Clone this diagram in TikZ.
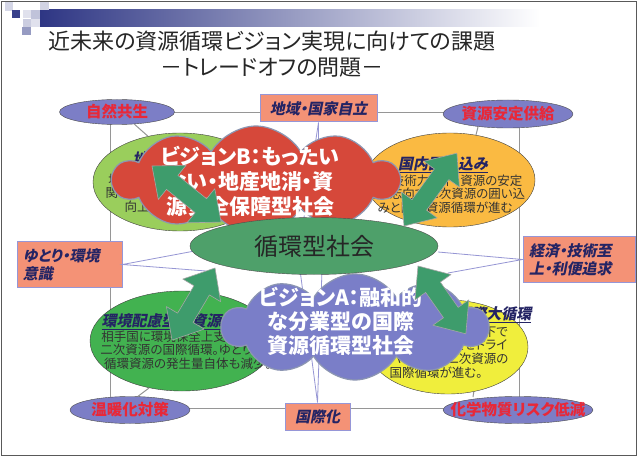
\documentclass[tikz,border=0pt]{standalone}
\usepackage{fontspec}
\setmainfont{Noto Sans CJK JP}[RawFeature=+palt]
\newfontfamily\jpsl{Noto Sans CJK JP}[FakeSlant=0.2, RawFeature=+palt]
\usepackage{tikz}
\usetikzlibrary{shapes.geometric,shapes.symbols}
\definecolor{hdrnavy}{RGB}{46,54,132}
\definecolor{framegray}{RGB}{150,150,150}
\definecolor{wedgeblue}{RGB}{150,150,212}
\definecolor{cornerfill}{RGB}{124,126,198}
\definecolor{cornerred}{RGB}{232,40,56}
\definecolor{boxfill}{RGB}{244,146,118}
\definecolor{boxedge}{RGB}{150,150,215}
\definecolor{navytext}{RGB}{36,36,100}
\definecolor{limegreen}{RGB}{154,206,92}
\definecolor{goldfill}{RGB}{250,186,66}
\definecolor{leafgreen}{RGB}{66,178,80}
\definecolor{lemonfill}{RGB}{240,238,60}
\definecolor{cloudred}{RGB}{214,72,58}
\definecolor{cloudblue}{RGB}{122,126,200}
\definecolor{cloudedge}{RGB}{140,150,178}
\definecolor{coregreen}{RGB}{78,160,106}
\definecolor{arrowgreen}{RGB}{62,156,108}
\tikzstyle{corner} = [ellipse, draw=black!70, fill=cornerfill, inner sep=0pt]
\tikzstyle{cornertext} = [font=\fontsize{15.5}{17}\selectfont\bfseries, text=cornerred]
\tikzstyle{axisbox} = [rectangle, draw=boxedge, line width=1pt, fill=boxfill, font=\jpsl\fontsize{15}{18}\selectfont\bfseries, text=navytext]
\tikzset{scene/.style={ellipse, draw=black!75, inner sep=0pt},
    vision/.style={cloud, cloud puffs=10, cloud puff arc=120, cloud ignores aspect, draw=cloudedge, line width=1.2pt, inner sep=0pt},
    visiontext/.style={font=\fontsize{21}{25}\selectfont\bfseries, text=white, align=center},
    twin/.style={fill=arrowgreen, draw=black!35, line width=0.6pt, line join=round},
    head/.style={font=\jpsl\fontsize{15}{17}\selectfont\bfseries, text=navytext},
    body/.style={font=\fontsize{12.5}{13.7}\selectfont, text=black!80, align=center},
    wedge/.style={draw=wedgeblue, line width=0.8pt}}
% block arrow with two heads: start, angle, length
\newcommand{\twinarrow}[3]{%
  \begin{scope}[shift={#1}, rotate=#2]
  \filldraw[twin] (0,0) -- (26,22) -- (26,9) -- ({#3-26},9) -- ({#3-26},22) -- (#3,0)
     -- ({#3-26},-22) -- ({#3-26},-9) -- (26,-9) -- (26,-22) -- cycle;
  \end{scope}}

\begin{document}
\begin{tikzpicture}[x=1pt, y=-1pt]
    \useasboundingbox (0,0) rectangle (640,457);
    \fill[white] (0,0) rectangle (640,457);
    \draw[black!65, line width=1pt] (1.5,1.5) rectangle (636.5,455.5);
    % header band and squares
    \shade[left color=hdrnavy, right color=white] (40,10) rectangle (540,27);
    \fill[hdrnavy!20] (5,2) rectangle (13,11);
    \fill[hdrnavy!95] (12,10) rectangle (20,18);
    \fill[hdrnavy!15] (23,10) rectangle (31,18);
    \fill[hdrnavy!30] (31,10) rectangle (40,19);
    \fill[hdrnavy!22] (40,2) rectangle (49,10);
    \fill[hdrnavy!25] (23,19) rectangle (31,27);
    \fill[hdrnavy!50] (22,27) rectangle (31,35);
    \fill[hdrnavy!15] (31,19) rectangle (40,27);
    %
    \node[font=\fontsize{22}{26}\selectfont, text=black!85, align=center] (title) at (272,54)
        {近未来の資源循環ビジョン実現に向けての課題\\－トレードオフの問題－};
    %
    \draw[framegray, line width=1pt] (110,113) rectangle (519,408);
    % mid boxes
    \node[axisbox, minimum width=117, minimum height=27] (jiritsu) at (318.5,108.5) {地域・国家自立};
    \node[axisbox, minimum width=105, minimum height=45, align=left, text width=93] (yutori) at (69.5,264.5) {ゆとり・環境\\意識};
    \node[axisbox, minimum width=112, minimum height=45, align=left, text width=100] (keizai) at (579,259.5) {経済・技術至\\上・利便追求};
    \node[axisbox, minimum width=65, minimum height=27] (kokusai) at (317.5,416.5) {国際化};
    % wedges towards the core
    \coordinate (coreL1) at (200,250); \coordinate (coreL2) at (206,271);
    \coordinate (coreR1) at (438,252); \coordinate (coreR2) at (448,273);
    \coordinate (coreT1) at (303,224); \coordinate (coreT2) at (318,224);
    \coordinate (coreB1) at (300,270); \coordinate (coreB2) at (322,270);
    \draw[wedge] (coreL1) -- (yutori.east) -- (coreL2);
    \draw[wedge] (coreR1) -- (keizai.west) -- (coreR2);
    \draw[wedge] (coreT1) -- (jiritsu.south) -- (coreT2);
    \draw[wedge] (coreB1) -- (kokusai.north) -- (coreB2);
    % corner ellipses
    \node[corner, minimum width=115, minimum height=25, label={[cornertext]center:自然共生}] (shizen) at (117,112) {};
    \node[corner, minimum width=130, minimum height=28, label={[cornertext]center:資源安定供給}] (kyokyu) at (508,114) {};
    \node[corner, minimum width=120, minimum height=27, label={[cornertext]center:温暖化対策}] (ondanka) at (130,410) {};
    \node[corner, minimum width=150, minimum height=27, label={[cornertext]center:化学物質リスク低減}] (kagaku) at (518,410) {};
    % scenario ellipses
    \node[scene, fill=limegreen, minimum width=174, minimum height=98] (shizenScene) at (180,182) {};
    \node[head] (shizenHead) at (185,160) {\underline{地域内資源循環}};
    \node[body] (shizenText) at (180,193) {地域住民・企業の主体的な\\関与で地域資源の循環利用\\向上と地域の活性化};
    \node[scene, fill=goldfill, minimum width=170, minimum height=94] (kyokyuScene) at (450,180) {};
    \node[head] (kyokyuHead) at (443,165) {\underline{国内囲い込み}};
    \node[body] (kyokyuText) at (445,194) {高い技術力の下、資源の安定\\確保志向で二次資源の囲い込\\みと国内資源循環が進む};
    \node[scene, fill=leafgreen, minimum width=184, minimum height=100] (ondankaScene) at (182,341) {};
    \node[head, anchor=west] (ondankaHead) at (98,322) {\underline{環境配慮型の資源循環}};
    \node[body] (ondankaText) at (188,350) {相手国に環境保全上支障のない\\二次資源の国際循環。ゆとりある\\循環資源の発生量自体も減少。};
    \node[scene, fill=lemonfill, minimum width=160, minimum height=94] (kagakuScene) at (448,347) {};
    \node[head, anchor=east] (kagakuHead) at (535,315) {\underline{国際大循環}};
    \node[body, align=left, anchor=west] (kagakuText) at (386,352) {市場メカニズムの下で\\国家間の格差をドライ\\バーとして二次資源の\\国際循環が進む。};
    % ties from corners
    \coordinate (kyokyuFoot) at (478,127);
    \coordinate (kagakuTop) at (473,397);
    \draw[framegray, line width=1pt] (shizen.-35) -- (shizenScene.125);
    \draw[framegray, line width=1pt] (kyokyuFoot) -- (kyokyuScene.60);
    \draw[framegray, line width=1pt] (ondanka.60) -- (ondankaScene.-125);
    \draw[framegray, line width=1pt] (kagakuTop) -- (kagakuScene.-60);
    % visions
    \node[vision, fill=cloudred, minimum width=286, minimum height=108] (visionB) at (256,180) {};
    \node[visiontext] (visionBText) at (250,181) {ビジョンB：もったい\\ない・地産地消・資\\源安全保障型社会};
    \node[vision, fill=cloudblue, minimum width=266, minimum height=106] (visionA) at (355,327) {};
    \node[visiontext, font=\fontsize{21}{24}\selectfont\bfseries] (visionAText) at (341,321) {ビジョンA：融和的\\な分業型の国際\\資源循環型社会};
    % core
    \node[ellipse, draw=black!70, fill=coregreen, minimum width=248, minimum height=57, inner sep=0pt,
          font=\fontsize{24}{26}\selectfont, text=black!85] (junkan) at (314,246) {循環型社会};
    % arrows
    \twinarrow{(152,166)}{-39.1}{89}
    \twinarrow{(404,226)}{54}{90}
    \twinarrow{(215,268)}{-120.8}{84}
    \twinarrow{(418,266)}{-54.8}{83}
\end{tikzpicture}
\end{document}
